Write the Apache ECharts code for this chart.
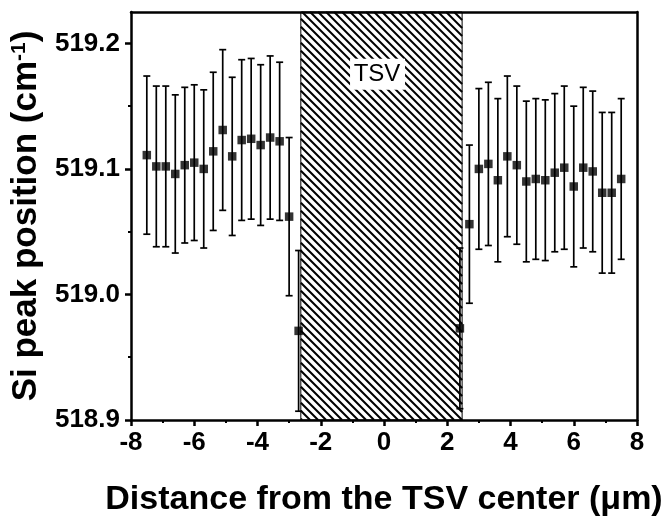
<!DOCTYPE html>
<html>
<head>
<meta charset="utf-8">
<script src="https://cdn.jsdelivr.net/npm/echarts@6/dist/echarts.min.js"></script>
<style>
  html, body { margin: 0; padding: 0; background: #fff; }
  #chart { width: 669px; height: 516px; }
</style>
</head>
<body>
<div id="chart"></div>
<script>
// measured points left of the TSV
var xLeft = [-7.5, -7.2, -6.9, -6.6, -6.3, -6.0, -5.7, -5.4, -5.1, -4.8, -4.5, -4.2, -3.9, -3.6, -3.3, -3.0, -2.7];
var peakLeft = [519.111, 519.102, 519.102, 519.096, 519.103, 519.105, 519.100, 519.114, 519.131, 519.110, 519.123, 519.124, 519.119, 519.125, 519.122, 519.062, 518.971];
var errLeft = [0.063, 0.064, 0.064, 0.063, 0.062, 0.062, 0.063, 0.063, 0.064, 0.063, 0.064, 0.064, 0.064, 0.065, 0.063, 0.063, 0.064];
// and right of it
var xRight = [2.4, 2.7, 3.0, 3.3, 3.6, 3.9, 4.2, 4.5, 4.8, 5.1, 5.4, 5.7, 6.0, 6.3, 6.6, 6.9, 7.2, 7.5];
var peakRight = [518.973, 519.056, 519.100, 519.104, 519.091, 519.110, 519.103, 519.090, 519.092, 519.091, 519.097, 519.101, 519.086, 519.101, 519.098, 519.081, 519.081, 519.092];
var errRight = [0.064, 0.063, 0.064, 0.065, 0.065, 0.064, 0.063, 0.064, 0.064, 0.064, 0.063, 0.065, 0.064, 0.064, 0.064, 0.064, 0.064, 0.064];

var yTicks = [518.9, 519.0, 519.1, 519.2];
var yMinorTicks = [518.95, 519.05, 519.15];
var yMin = 518.9, yMax = 519.225;
var tsvRange = [-2.63, 2.47];
var tsvLabelAt = [-0.22, 519.175];

var font = 'Liberation Sans, Arial, sans-serif';

var points = [], bars = [];
for (var i = 0; i < xLeft.length; i++) {
  points.push([xLeft[i], peakLeft[i]]);
  bars.push([xLeft[i], peakLeft[i] - errLeft[i], peakLeft[i] + errLeft[i]]);
}
for (var i = 0; i < xRight.length; i++) {
  points.push([xRight[i], peakRight[i]]);
  bars.push([xRight[i], peakRight[i] - errRight[i], peakRight[i] + errRight[i]]);
}

function renderBar(params, api) {
  var x = api.value(0);
  var lo = api.coord([x, api.value(1)]);
  var hi = api.coord([x, api.value(2)]);
  var w = 3.5;
  var st = { stroke: '#000', lineWidth: 1.7 };
  return {
    type: 'group',
    children: [
      { type: 'line', shape: { x1: lo[0], y1: lo[1], x2: hi[0], y2: hi[1] }, style: st },
      { type: 'line', shape: { x1: lo[0] - w, y1: lo[1], x2: lo[0] + w, y2: lo[1] }, style: st },
      { type: 'line', shape: { x1: hi[0] - w, y1: hi[1], x2: hi[0] + w, y2: hi[1] }, style: st }
    ]
  };
}

// hatched TSV block, diagonal lines clipped to the box
function renderTsv(params, api) {
  var p0 = api.coord([api.value(0), api.value(3)]);
  var p1 = api.coord([api.value(2), api.value(1)]);
  var x0 = p0[0], y0 = p0[1], x1 = p1[0], y1 = p1[1];
  var kids = [{ type: 'rect', shape: { x: x0, y: y0, width: x1 - x0, height: y1 - y0 },
    style: { fill: '#fff', stroke: '#000', lineWidth: 1 } }];
  var step = 8;
  for (var c = y0 - x1; c < y1 - x0; c += step) {
    var a = Math.max(x0, y0 - c), b = Math.min(x1, y1 - c);
    if (b - a < 0.5) continue;
    kids.push({ type: 'line', shape: { x1: a, y1: a + c, x2: b, y2: b + c },
      style: { stroke: '#000', lineWidth: 2 } });
  }
  var lp = api.coord(tsvLabelAt);
  kids.push({ type: 'rect', shape: { x: lp[0] - 27, y: lp[1] - 16, width: 55, height: 31 }, style: { fill: '#fff' } });
  kids.push({ type: 'text', x: lp[0], y: lp[1],
    style: { text: 'TSV', fill: '#000', fontSize: 24, fontFamily: font, align: 'center', verticalAlign: 'middle' } });
  return { type: 'group', children: kids };
}

var chart = echarts.init(document.getElementById('chart'));
var blackLine = { color: '#000', width: 2.5 };
var tickFont = { fontSize: 26, fontWeight: 'bold', color: '#000', fontFamily: font };

chart.setOption({
  animation: false,
  backgroundColor: '#fff',
  grid: { left: 131, right: 32, top: 12, bottom: 96, outerBoundsMode: 'none' },
  xAxis: [{
    type: 'value', min: -8, max: 8, interval: 2, position: 'bottom', z: 10,
    axisLine: { onZero: false, lineStyle: blackLine },
    axisTick: { length: 6, lineStyle: { color: '#000', width: 2.5 } },
    minorTick: { show: true, splitNumber: 2, length: 3, lineStyle: { color: '#000', width: 2 } },
    axisLabel: Object.assign({ margin: 10 }, tickFont),
    splitLine: { show: false },
    name: 'Distance from the TSV center (\u03bcm)', nameLocation: 'middle', nameGap: 63,
    nameTextStyle: { fontSize: 34, fontWeight: 'bold', color: '#000', fontFamily: font }
  }, {
    type: 'value', min: -8, max: 8, position: 'top', z: 10,
    axisLine: { onZero: false, lineStyle: blackLine },
    axisTick: { show: false }, axisLabel: { show: false }, splitLine: { show: false }
  }],
  yAxis: [{
    type: 'value', min: yMin, max: yMax, interval: 0.1, position: 'left', z: 10,
    axisLine: { onZero: false, lineStyle: blackLine },
    axisTick: { length: 6, customValues: yTicks, lineStyle: { color: '#000', width: 2.5 } },
    axisLabel: Object.assign({ margin: 11, customValues: yTicks, formatter: function (v) { return v.toFixed(1); } }, tickFont),
    splitLine: { show: false },
    name: 'Si peak position (cm{sup|-1})', nameLocation: 'middle', nameGap: 86,
    nameTextStyle: { fontSize: 35, fontWeight: 'bold', color: '#000', fontFamily: font,
      rich: { sup: { fontSize: 21, fontWeight: 'bold', color: '#000', fontFamily: font, verticalAlign: 'top' } } }
  }, {
    type: 'value', min: yMin, max: yMax, position: 'left', z: 10,
    axisLine: { show: false, onZero: false },
    axisTick: { length: 3, customValues: yMinorTicks, lineStyle: { color: '#000', width: 2 } },
    axisLabel: { show: false }, splitLine: { show: false }
  }, {
    type: 'value', min: yMin, max: yMax, position: 'right', z: 10,
    axisLine: { onZero: false, lineStyle: blackLine },
    axisTick: { show: false }, axisLabel: { show: false }, splitLine: { show: false }
  }],
  series: [{
    type: 'custom', z: 1, renderItem: renderTsv, silent: true,
    encode: { x: [0, 2], y: [1, 3] },
    data: [[tsvRange[0], yMin, tsvRange[1], yMax]]
  }, {
    type: 'custom', z: 3, renderItem: renderBar,
    encode: { x: 0, y: [1, 2] },
    data: bars
  }, {
    type: 'scatter', z: 4, symbol: 'rect', symbolSize: 8.5,
    itemStyle: { color: '#000' },
    data: points
  }]
});
</script>
</body>
</html>
